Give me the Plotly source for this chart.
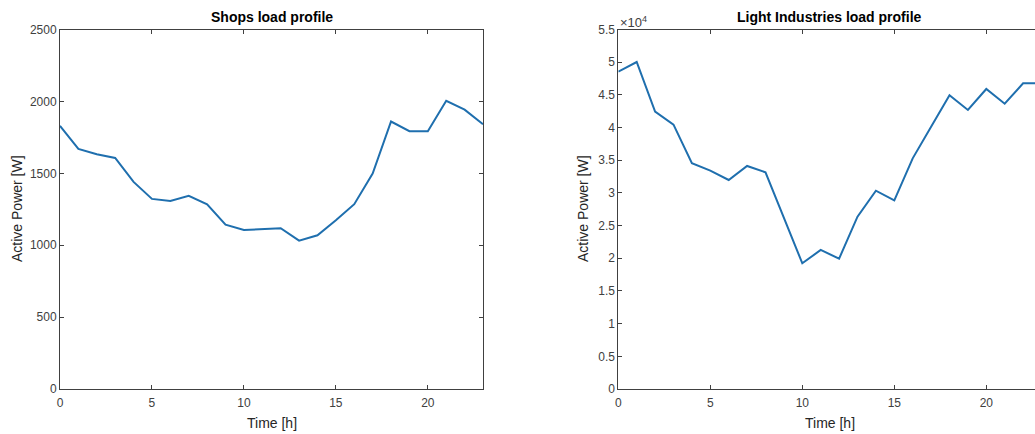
import plotly.graph_objects as go

hours = list(range(24))
shops_w = [1830, 1670, 1633, 1607, 1440, 1322, 1308, 1343, 1285, 1143, 1106, 1111,
           1118, 1032, 1069, 1173, 1285, 1498, 1860, 1793, 1793, 2004, 1943, 1841]
light_ind_w = [48550, 50030, 42430, 40440, 34530, 33400, 31980, 34120, 33150, 26100,
               19230, 21270, 19940, 26360, 30340, 28870, 35290, 40130, 44930, 42690,
               45900, 43650, 46770, 46770]

shops_ticks = [0, 500, 1000, 1500, 2000, 2500]
light_ticks = [0, 5000, 10000, 15000, 20000, 25000, 30000, 35000, 40000, 45000, 50000, 55000]
light_tick_text = ["0", "0.5", "1", "1.5", "2", "2.5", "3", "3.5", "4", "4.5", "5", "5.5"]
x_ticks = [0, 5, 10, 15, 20]

W, H = 1035, 434
FONT = "Liberation Sans, Arial, Helvetica, sans-serif"
AX = "#404040"
TXT = "#404040"
LINE = "#1f6fae"

L1, R1 = 60, 483
L2, R2full = 618.3, 1041.5
TOP, BOT = 29.5, 389

fig = go.Figure()
fig.add_trace(go.Scatter(x=hours, y=shops_w, mode="lines",
                         line=dict(color=LINE, width=2), xaxis="x", yaxis="y",
                         showlegend=False))
fig.add_trace(go.Scatter(x=hours, y=light_ind_w, mode="lines",
                         line=dict(color=LINE, width=2), xaxis="x2", yaxis="y2",
                         showlegend=False))

px_per_h = (R2full - L2) / 23
x2_end = (W - L2) / px_per_h

common = dict(showgrid=False, zeroline=False, showline=True, linecolor=AX, linewidth=1,
              ticks="inside", ticklen=4, tickcolor=AX, tickwidth=1, automargin=False,
              tickfont=dict(family=FONT, size=12, color=TXT))

ydom = [(H - BOT) / H, (H - TOP) / H]
fig.update_layout(
    width=W, height=H, margin=dict(l=0, r=0, t=0, b=0, autoexpand=False),
    paper_bgcolor="white", plot_bgcolor="white",
    xaxis=dict(domain=[L1 / W, R1 / W], range=[0, 23], tickvals=x_ticks,
               mirror="ticks", anchor="y", ticklabelstandoff=3, **common),
    yaxis=dict(domain=ydom, range=[0, 2500], tickvals=shops_ticks,
               mirror="ticks", anchor="x", **common),
    xaxis2=dict(domain=[L2 / W, 1.0], range=[0, x2_end], tickvals=x_ticks,
                mirror="ticks", anchor="y2", ticklabelstandoff=3, **common),
    yaxis2=dict(domain=ydom, range=[0, 55000], tickvals=light_ticks,
                ticktext=light_tick_text, mirror=False, anchor="x2", **common),
)

ann = []
def add_text(x, y, text, size=14, color=TXT, angle=0):
    ann.append(dict(x=x / W, y=1 - y / H, xref="paper", yref="paper", text=text,
                    showarrow=False, textangle=angle, xanchor="center", yanchor="middle",
                    font=dict(family=FONT, size=size, color=color)))

add_text((L1 + R1) / 2, 17, "<b>Shops load profile</b>", size=14, color="#000000")
add_text((L2 + R2full) / 2, 17, "<b>Light Industries load profile</b>", size=14, color="#000000")
add_text((L1 + R1) / 2, 423, "Time [h]", size=14, color="#262626")
add_text((L2 + R2full) / 2, 423, "Time [h]", size=14, color="#262626")
add_text(17, 209, "Active Power [W]", size=14, color="#262626", angle=-90)
add_text(583, 209, "Active Power [W]", size=14, color="#262626", angle=-90)
ann.append(dict(x=618 / W, y=1 - 22 / H, xref="paper", yref="paper",
                text="×10<sup>4</sup>", showarrow=False, xanchor="left", yanchor="middle",
                font=dict(family=FONT, size=13, color=TXT)))
fig.update_layout(annotations=ann)

fig.write_html("out.html")
